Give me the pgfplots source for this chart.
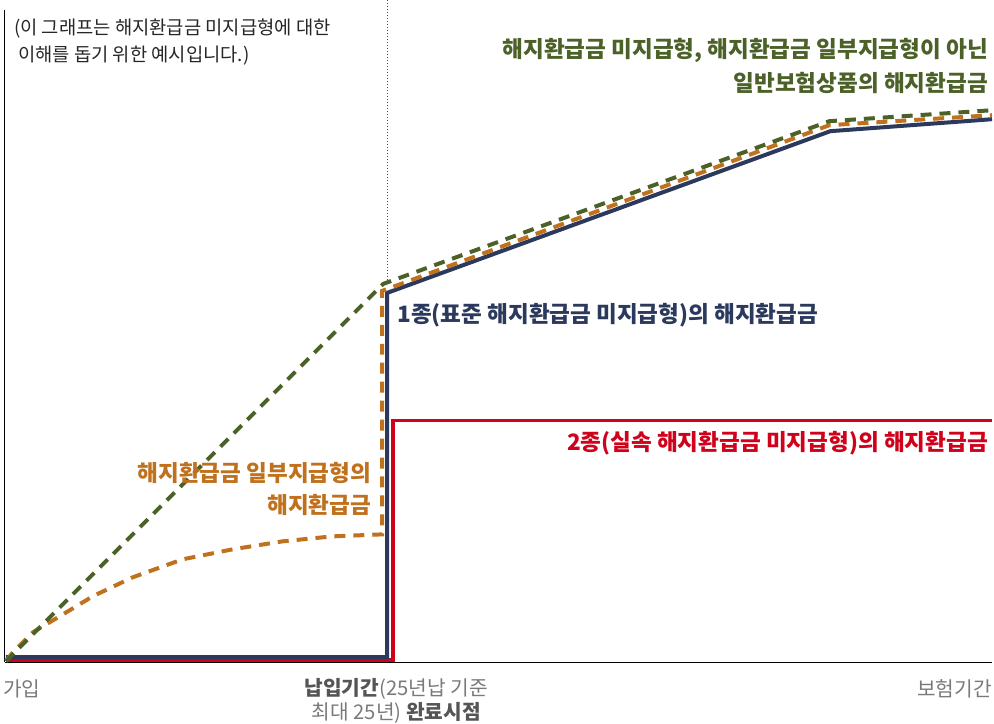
\documentclass[border=0pt]{standalone}
\usepackage{pgfplots}
\pgfplotsset{compat=1.18}
\usepackage{fontspec}
\setmainfont{Noto Sans CJK KR}
\definecolor{navy}{HTML}{2B3A5C}
\definecolor{redc}{HTML}{D0011B}
\definecolor{greenc}{HTML}{4B6128}
\definecolor{orangec}{HTML}{C0711E}
\definecolor{grayt}{HTML}{7A7A7A}
\definecolor{grayb}{HTML}{555555}
\begin{document}
\begin{tikzpicture}
\begin{axis}[
  scale only axis, width=989pt, height=653pt,
  xmin=5, xmax=994, ymin=0, ymax=653,
  axis x line=bottom, axis y line=left,
  axis line style={-, black, line width=1pt},
  xtick=\empty, ytick=\empty,
  clip=false,
]
\path (axis cs:0,-62) rectangle (axis cs:994,663);
% dotted guide
\draw[black!70, line width=0.9pt, dash pattern=on 1pt off 2pt] (axis cs:388,663) -- (axis cs:388,378);
% red: 2종
\addplot[redc, line width=3.5pt, line join=miter] coordinates {(6,2) (394,2) (394,242) (994,242)};
% navy: 1종
\addplot[navy, line width=4pt, line join=miter] coordinates {(6,5) (388,5) (388,370) (832,532) (994,544)};
% orange: 일부지급형
\addplot[orangec, line width=4pt, dash pattern=on 11pt off 8pt] coordinates {
 (6,1) (13,10) (33,30) (60,46) (93,66) (133,85) (183,103) (233,113) (283,121) (333,126) (383,128)
 (383,372) (831,538) (994,548)};
% green: 일반
\addplot[greenc, line width=4pt, dash pattern=on 11pt off 8pt] coordinates {(6,1) (384,379) (831,542) (994,553)};
% labels
\node[anchor=west, font=\fontsize{18.8}{27}\selectfont, align=left, text=black!85, inner sep=0pt] at (axis cs:14,621)
  {(이 그래프는 해지환급금 미지급형에 대한\\\hspace{4pt}이해를 돕기 위한 예시입니다.)};
\node[anchor=east, font=\fontsize{22.6}{26}\selectfont\bfseries, text=greenc, inner sep=0pt] at (axis cs:990,613) {해지환급금 미지급형, 해지환급금 일부지급형이 아닌};
\node[anchor=east, font=\fontsize{22.6}{26}\selectfont\bfseries, text=greenc, inner sep=0pt] at (axis cs:990,580) {일반보험상품의 해지환급금};
\node[anchor=west, font=\fontsize{22.6}{26}\selectfont\bfseries, text=navy, inner sep=0pt] at (axis cs:398,348) {1종(표준 해지환급금 미지급형)의 해지환급금};
\node[anchor=east, font=\fontsize{22.6}{26}\selectfont\bfseries, text=redc, inner sep=0pt] at (axis cs:990,219) {2종(실속 해지환급금 미지급형)의 해지환급금};
\node[anchor=east, font=\fontsize{22.6}{26}\selectfont\bfseries, text=orangec, inner sep=0pt] at (axis cs:372,190) {해지환급금 일부지급형의};
\node[anchor=east, font=\fontsize{22.6}{26}\selectfont\bfseries, text=orangec, inner sep=0pt] at (axis cs:372,157) {해지환급금};
% x labels
\node[anchor=west, font=\fontsize{20.3}{24}\selectfont, text=grayt, inner sep=0pt] at (axis cs:3,-27) {가입};
\node[anchor=east, font=\fontsize{20.3}{24}\selectfont, text=grayt, inner sep=0pt] at (axis cs:994,-27) {보험기간};
\node[anchor=center, font=\fontsize{20.3}{24}\selectfont, text=grayt, inner sep=0pt] at (axis cs:397,-27) {\textbf{\color{grayb}납입기간}(25년납 기준};
\node[anchor=center, font=\fontsize{20.3}{24}\selectfont, text=grayt, inner sep=0pt] at (axis cs:397,-51) {최대 25년) \textbf{\color{grayb}완료시점}};
\end{axis}
\end{tikzpicture}
\end{document}
